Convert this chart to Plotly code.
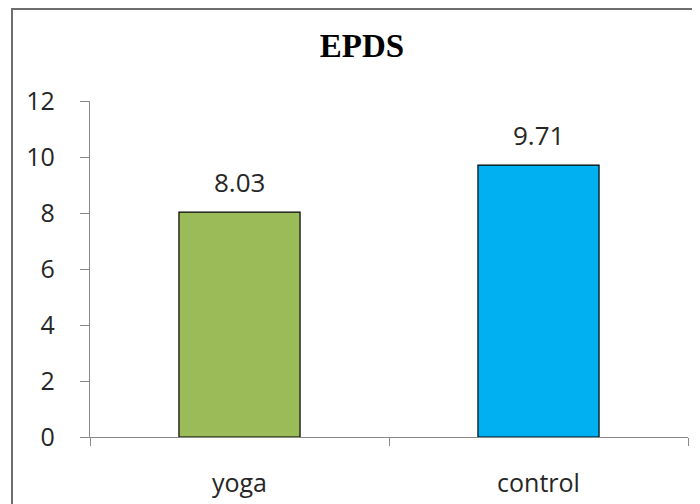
import plotly.graph_objects as go

categories = ["yoga", "control"]
values = [8.03, 9.71]
labels = ["8.03", "9.71"]
colors = ["#9BBB59", "#00B0F0"]
y_ticks = [0, 2, 4, 6, 8, 10, 12]

# page body has an 8px margin; figure is sized to fill the rest of the window
W, H = 692, 496
L, R, T, B = 82, 12, 93, 67
PW, PH = W - L - R, H - T - B

FONT = "Open Sans, Liberation Sans"

fig = go.Figure()
fig.add_trace(go.Bar(
    x=categories, y=values,
    marker=dict(color=colors, line=dict(color="#000000", width=1.2)),
    width=0.405,
))

for c, v, t in zip(categories, values, labels):
    fig.add_annotation(x=c, y=v, text=t, showarrow=False, yanchor="middle",
                       yshift=30, font=dict(family=FONT, size=26, color="#262626"))

fig.update_layout(
    width=W, height=H,
    margin=dict(l=L, r=R, t=T, b=B),
    plot_bgcolor="white", paper_bgcolor="white",
    showlegend=False,
    title=dict(text="<b>EPDS</b>", x=354 / W, xanchor="center", y=1 - 37 / H, yanchor="middle",
               font=dict(family="Liberation Serif", size=33, color="#000000")),
    xaxis=dict(showline=True, linecolor="#898989", linewidth=1.2, ticks="outside", tickson="boundaries",
               ticklen=8, tickcolor="#898989", tickfont=dict(family=FONT, size=25, color="#262626"),
               showgrid=False, ticklabelstandoff=24, automargin=False),
    yaxis=dict(range=[0, 12], tickvals=y_ticks, showline=True, linecolor="#898989", linewidth=1.2,
               ticks="outside", ticklen=9, tickcolor="#898989", showgrid=False, zeroline=False,
               tickfont=dict(family=FONT, size=25, color="#262626"), ticklabelstandoff=20,
               automargin=False),
    shapes=[dict(type="rect", xref="paper", yref="paper",
                 x0=(4 - L) / PW, x1=1.2, y0=-0.5, y1=(PH + T - 1) / PH,
                 line=dict(color="#6e6e6e", width=2), fillcolor="rgba(0,0,0,0)", layer="below")],
)

fig.write_html("out.html")
